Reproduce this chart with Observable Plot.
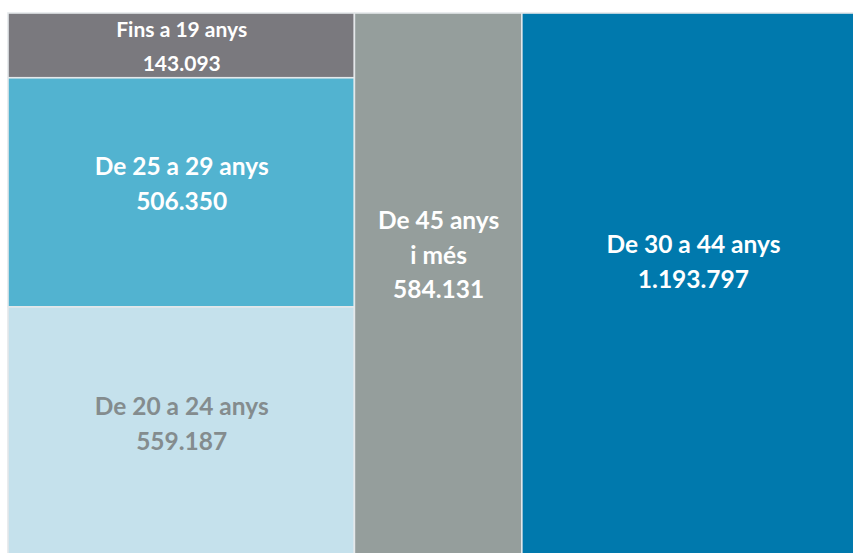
<!DOCTYPE html>
<html>
<head>
<meta charset="utf-8">
<script src="https://cdn.jsdelivr.net/npm/d3@7"></script>
<script src="https://cdn.jsdelivr.net/npm/@observablehq/plot@0.6"></script>
<style>
  html, body { margin: 0; padding: 0; background: #ffffff; overflow: hidden; }
  #chart svg { display: block; overflow: hidden; }
</style>
</head>
<body>
<div id="chart"></div>
<script>
// Data (population by age group)
const groups = ["Fins a 19 anys", "De 25 a 29 anys", "De 20 a 24 anys", "De 45 anys\ni més", "De 30 a 44 anys"];
const values = [143093, 506350, 559187, 584131, 1193797];
const valueLabels = ["143.093", "506.350", "559.187", "584.131", "1.193.797"];
const columns = [0, 0, 0, 1, 2]; // treemap column of each group
const fills = ["#7a797e", "#52b3d0", "#c5e1ec", "#959e9c", "#0079ad"];
const textColors = ["#ffffff", "#ffffff", "#848c8e", "#ffffff", "#ffffff"];

// Build treemap layout in data units (columns by value, rows by share of column)
const nCols = d3.max(columns) + 1;
const colTotals = d3.range(nCols).map(c => d3.sum(values.filter((v, i) => columns[i] === c)));
const total = d3.sum(values);
const colStart = [0];
for (let c = 1; c < nCols; c++) colStart[c] = colStart[c - 1] + colTotals[c - 1];
const rowAcc = new Array(nCols).fill(0);
const cells = groups.map((g, i) => {
  const c = columns[i];
  const y1 = rowAcc[c] / colTotals[c];
  rowAcc[c] += values[i];
  const y2 = rowAcc[c] / colTotals[c];
  return {
    group: g, value: values[i], label: g + "\n" + valueLabels[i],
    x1: colStart[c], x2: colStart[c] + colTotals[c], y1, y2,
    fill: fills[i], color: textColors[i], small: i === 0
  };
});
cells.forEach(d => {
  const extraLines = d.label.split("\n").length - 2;
  d.xc = (d.x1 + d.x2) / 2;
  d.yc = d.y1 + (0.45 - 0.013 * extraLines) * (d.y2 - d.y1);
});

const chart = Plot.plot({
  width: 853,
  height: 553,
  margin: 0,
  x: { domain: [0, total], range: [8, 864], axis: null },
  y: { domain: [0, 1], range: [13, 560], axis: null },
  marks: [
    Plot.rect(cells, {
      x1: "x1", x2: "x2", y1: "y1", y2: "y2",
      fill: d => d.fill, stroke: "#e4e8ea", strokeWidth: 1.6
    }),
    Plot.text(cells.filter(d => !d.small), {
      x: "xc", y: "yc", text: "label", fill: d => d.color,
      fontSize: 24.5, fontWeight: 700, fontFamily: "Lato", lineHeight: 1.41,
      textAnchor: "middle", lineAnchor: "middle"
    }),
    Plot.text(cells.filter(d => d.small), {
      x: "xc", y: "yc", text: "label", fill: d => d.color,
      fontSize: 21, fontWeight: 700, fontFamily: "Lato", lineHeight: 1.62,
      textAnchor: "middle", lineAnchor: "middle"
    })
  ]
});
document.getElementById("chart").appendChild(chart);
</script>
</body>
</html>
